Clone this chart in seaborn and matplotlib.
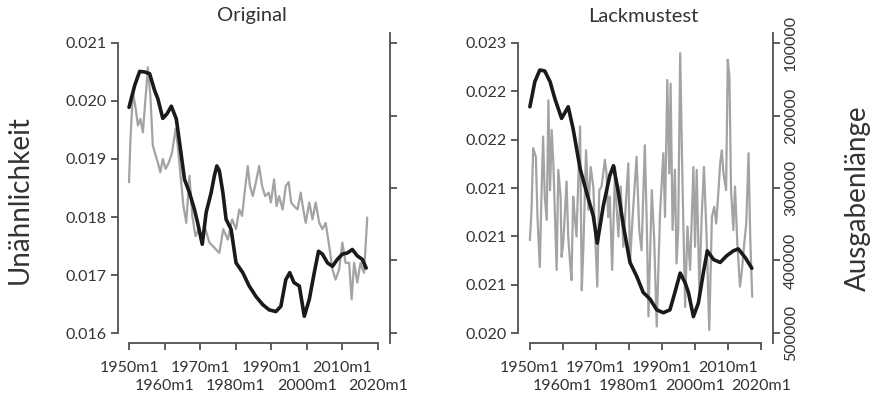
import matplotlib
matplotlib.use("Agg")
import matplotlib.pyplot as plt
import seaborn as sns
import pandas as pd

# ---------------- data ----------------
orig_black_year = [1950.0, 1951.6, 1953.0, 1954.4, 1955.8, 1957.2, 1958.1, 1959.5, 1960.7, 1961.9,
                   1963.3, 1964.2, 1965.6, 1967.0, 1968.4, 1969.3, 1970.6, 1971.7, 1973.1, 1974.0,
                   1974.7, 1975.4, 1976.4, 1977.3, 1978.7, 1980.1, 1982.0, 1983.8, 1985.7, 1987.6,
                   1989.4, 1991.3, 1992.7, 1994.1, 1995.2, 1996.4, 1997.9, 1999.3, 2000.7, 2002.1,
                   2003.3, 2004.4, 2005.8, 2007.2, 2008.6, 2010.0, 2011.4, 2012.8, 2014.2, 2015.6,
                   2016.7]
orig_black_val = [0.01989, 0.02027, 0.02051, 0.02050, 0.02047, 0.02018, 0.02004, 0.01970, 0.01978, 0.01991,
                  0.01969, 0.01929, 0.01865, 0.01842, 0.01813, 0.01790, 0.01753, 0.01808, 0.01842, 0.01871,
                  0.01888, 0.01880, 0.01842, 0.01796, 0.01779, 0.01721, 0.01704, 0.01681, 0.01663, 0.01649,
                  0.01640, 0.01637, 0.01646, 0.01692, 0.01704, 0.01687, 0.01681, 0.01629, 0.01658, 0.01704,
                  0.01741, 0.01736, 0.01721, 0.01715, 0.01727, 0.01736, 0.01738, 0.01744, 0.01733, 0.01727,
                  0.01712]

orig_gray_year = [1950.0, 1950.4, 1951.1, 1951.9, 1952.5, 1953.2, 1953.9, 1954.7, 1955.3, 1956.0,
                  1956.7, 1957.5, 1958.1, 1958.8, 1959.5, 1960.3, 1961.2, 1962.1, 1963.1, 1963.7,
                  1964.5, 1965.3, 1966.1, 1967.0, 1967.8, 1968.7, 1969.6, 1970.6, 1971.5, 1972.6,
                  1974.0, 1975.4, 1976.5, 1977.8, 1979.0, 1980.1, 1981.0, 1981.8, 1982.4, 1983.4,
                  1984.0, 1984.8, 1985.7, 1986.6, 1987.4, 1988.3, 1989.3, 1989.9, 1990.8, 1991.5,
                  1992.2, 1993.2, 1994.1, 1994.9, 1995.6, 1996.4, 1997.4, 1998.3, 1999.0, 1999.7,
                  2000.7, 2001.6, 2002.5, 2003.5, 2004.4, 2005.3, 2006.3, 2007.2, 2008.1, 2009.1,
                  2010.0, 2010.9, 2011.9, 2012.6, 2013.3, 2014.2, 2015.1, 2016.1, 2017.0]
orig_gray_val = [0.01860, 0.01934, 0.02015, 0.01986, 0.01958, 0.01969, 0.01946, 0.02009, 0.02058, 0.02009,
                 0.01923, 0.01906, 0.01894, 0.01877, 0.01900, 0.01883, 0.01894, 0.01911, 0.01952, 0.01923,
                 0.01871, 0.01819, 0.01790, 0.01871, 0.01802, 0.01767, 0.01779, 0.01767, 0.01779, 0.01756,
                 0.01747, 0.01738, 0.01779, 0.01761, 0.01796, 0.01779, 0.01813, 0.01802, 0.01836, 0.01888,
                 0.01854, 0.01836, 0.01860, 0.01888, 0.01854, 0.01836, 0.01842, 0.01825, 0.01865, 0.01819,
                 0.01836, 0.01813, 0.01854, 0.01860, 0.01825, 0.01819, 0.01813, 0.01842, 0.01813, 0.01790,
                 0.01825, 0.01796, 0.01825, 0.01790, 0.01779, 0.01790, 0.01750, 0.01710, 0.01692, 0.01710,
                 0.01756, 0.01721, 0.01721, 0.01658, 0.01721, 0.01687, 0.01721, 0.01704, 0.01799]

test_black_year = [1950.0, 1951.5, 1953.0, 1954.5, 1956.1, 1957.6, 1959.6, 1961.6, 1963.1, 1965.2,
                   1967.2, 1969.2, 1970.4, 1972.2, 1974.2, 1975.3, 1976.8, 1978.3, 1980.3, 1982.3,
                   1984.3, 1986.4, 1988.4, 1990.4, 1992.4, 1993.9, 1995.5, 1997.0, 1998.0, 1999.5,
                   2001.0, 2002.5, 2003.7, 2005.6, 2007.6, 2009.6, 2011.6, 2013.1, 2015.2, 2017.2]
test_black_val = [0.02234, 0.02260, 0.02272, 0.02271, 0.02260, 0.02242, 0.02222, 0.02234, 0.02211, 0.02170,
                  0.02145, 0.02121, 0.02093, 0.02131, 0.02163, 0.02173, 0.02145, 0.02111, 0.02073, 0.02059,
                  0.02042, 0.02035, 0.02024, 0.02021, 0.02024, 0.02042, 0.02062, 0.02052, 0.02042, 0.02017,
                  0.02031, 0.02062, 0.02085, 0.02076, 0.02073, 0.02080, 0.02085, 0.02087, 0.02078, 0.02067]

test_gray_year = [1950.0, 1950.5, 1951.0, 1951.8, 1952.3, 1953.0, 1953.5, 1954.0, 1954.5, 1955.1,
                  1955.6, 1956.1, 1956.6, 1957.1, 1957.6, 1958.1, 1958.6, 1959.3, 1959.6, 1960.1,
                  1961.1, 1961.6, 1962.1, 1962.6, 1963.1, 1963.6, 1964.1, 1965.2, 1965.7, 1966.2,
                  1967.0, 1967.7, 1968.4, 1969.2, 1969.7, 1970.4, 1971.0, 1971.7, 1972.7, 1973.2,
                  1973.7, 1974.2, 1974.9, 1975.8, 1976.3, 1976.8, 1977.5, 1978.3, 1979.1, 1979.8,
                  1980.3, 1981.1, 1982.3, 1983.1, 1983.8, 1984.8, 1985.4, 1985.9, 1986.9, 1987.6,
                  1988.4, 1989.4, 1990.4, 1990.9, 1991.6, 1992.2, 1992.6, 1993.2, 1993.9, 1994.4,
                  1994.9, 1995.5, 1996.2, 1997.0, 1997.7, 1998.5, 1999.5, 2000.0, 2000.5, 2001.3,
                  2002.0, 2002.7, 2003.5, 2004.3, 2005.1, 2005.8, 2006.4, 2007.1, 2007.6, 2008.1,
                  2008.6, 2009.4, 2009.9, 2010.4, 2010.9, 2011.6, 2012.1, 2012.8, 2013.6, 2014.1,
                  2014.8, 2015.5, 2016.2, 2016.7, 2017.3]
test_gray_val = [372000, 330000, 245000, 257000, 340000, 409000, 312000, 229000, 312000, 344000,
                 179000, 303000, 220000, 266000, 340000, 413000, 275000, 312000, 395000, 376000,
                 291000, 367000, 399000, 427000, 312000, 340000, 367000, 215000, 441000, 381000,
                 248000, 330000, 271000, 298000, 358000, 436000, 303000, 298000, 261000, 280000,
                 340000, 312000, 413000, 271000, 330000, 367000, 298000, 381000, 317000, 266000,
                 404000, 340000, 257000, 358000, 386000, 241000, 353000, 477000, 303000, 367000,
                 491000, 335000, 252000, 340000, 151000, 280000, 156000, 358000, 275000, 404000,
                 358000, 114000, 294000, 464000, 353000, 413000, 271000, 381000, 275000, 441000,
                 340000, 271000, 367000, 496000, 340000, 326000, 349000, 303000, 266000, 248000,
                 280000, 303000, 123000, 146000, 303000, 358000, 298000, 376000, 436000, 418000,
                 381000, 349000, 252000, 367000, 450000]

# x tick labels are staggered on two rows (R style)
x_ticks_row1 = [1950, 1970, 1990, 2010]
x_labels_row1 = ["1950m1", "1970m1", "1990m1", "2010m1"]
x_ticks_row2 = [1960, 1980, 2000, 2020]
x_labels_row2 = ["1960m1", "1980m1", "2000m1", "2020m1"]
orig_y_ticks = [0.016, 0.017, 0.018, 0.019, 0.020, 0.021]
orig_y_labels = ["0.016", "0.017", "0.018", "0.019", "0.020", "0.021"]
test_y_ticks = [0.0200, 0.0205, 0.0210, 0.0215, 0.0220, 0.0225, 0.0230]
test_y_labels = ["0.020", "0.021", "0.021", "0.021", "0.022", "0.022", "0.023"]
len_ticks = [100000, 200000, 300000, 400000, 500000]
len_labels = ["100000", "200000", "300000", "400000", "500000"]

titles = ["Original", "Lackmustest"]
ylabel_left = "Unähnlichkeit"
ylabel_right = "Ausgabenlänge"

# ---------------- style ----------------
sns.set_style("ticks")
plt.rcParams["font.family"] = ["Lato", "DejaVu Sans"]
AX_COL = "#505050"
TXT_COL = "#333333"
BLACK = "#1a1a1a"
GRAY = "#a3a3a3"
FS = 11.5

W, H = 876, 395
fig = plt.figure(figsize=(W / 100, H / 100), dpi=100)


def px_axes(x0, x1, y0, y1):
    return fig.add_axes([x0 / W, 1 - y1 / H, (x1 - x0) / W, (y1 - y0) / H])


def style_main(ax, yticks, ylabels, xlim, ylim):
    ax.set_xlim(*xlim)
    ax.set_ylim(*ylim)
    for s in ["top", "right"]:
        ax.spines[s].set_visible(False)
    for s in ["left", "bottom"]:
        ax.spines[s].set_color(AX_COL)
        ax.spines[s].set_linewidth(1.3)
    ax.spines["left"].set_bounds(yticks[0], yticks[-1])
    ax.spines["bottom"].set_bounds(x_ticks_row1[0], x_ticks_row2[-1])
    ax.set_yticks(yticks)
    ax.set_yticklabels(ylabels)
    ax.set_xticks(x_ticks_row1)
    ax.set_xticklabels(x_labels_row1)
    ax.set_xticks(x_ticks_row2, minor=True)
    ax.set_xticklabels(x_labels_row2, minor=True)
    ax.tick_params(axis="both", which="both", direction="out", length=5, width=1.3, color=AX_COL,
                   labelsize=FS, labelcolor=TXT_COL)
    ax.tick_params(axis="y", pad=3)
    ax.tick_params(axis="x", which="major", pad=8)
    ax.tick_params(axis="x", which="minor", pad=21)
    ax.set_xlabel("")
    ax.set_ylabel("")
    ax.patch.set_alpha(0)


def style_twin(ax2, show_labels):
    ax2.set_ylim(513800, 86200)
    for s in ["top", "left", "bottom"]:
        ax2.spines[s].set_visible(False)
    ax2.spines["right"].set_color(AX_COL)
    ax2.spines["right"].set_linewidth(1.3)
    ax2.set_yticks(len_ticks)
    if show_labels:
        ax2.set_yticklabels(len_labels, rotation=90, va="center")
    else:
        ax2.set_yticklabels([])
    ax2.tick_params(axis="y", direction="out", length=5, width=1.3, color=AX_COL,
                    labelsize=FS, labelcolor=TXT_COL, pad=3)
    ax2.set_ylabel("")
    ax2.set_xlabel("")


# ---------------- left panel ----------------
axL = px_axes(118, 390, 33, 343)
axL2 = axL.twinx()
df_og = pd.DataFrame({"year": orig_gray_year, "val": orig_gray_val})
df_ob = pd.DataFrame({"year": orig_black_year, "val": orig_black_val})
sns.lineplot(data=df_og, x="year", y="val", ax=axL, color=GRAY, lw=1.6, zorder=2)
sns.lineplot(data=df_ob, x="year", y="val", ax=axL, color=BLACK, lw=2.6, zorder=3)
style_main(axL, orig_y_ticks, orig_y_labels, (1946.9, 2023.4), (0.015828, 0.021172))
style_twin(axL2, False)
axL.set_zorder(axL2.get_zorder() + 1)

# ---------------- right panel ----------------
axR = px_axes(518, 773, 33, 343)
axR2 = axR.twinx()
df_tg = pd.DataFrame({"year": test_gray_year, "val": test_gray_val})
df_tb = pd.DataFrame({"year": test_black_year, "val": test_black_val})
sns.lineplot(data=df_tg, x="year", y="val", ax=axR2, color=GRAY, lw=1.6)
sns.lineplot(data=df_tb, x="year", y="val", ax=axR, color=BLACK, lw=2.6)
style_main(axR, test_y_ticks, test_y_labels, (1946.4, 2023.6), (0.019897, 0.023103))
style_twin(axR2, True)
axR2.set_xlim(1946.4, 2023.6)
axR.set_zorder(axR2.get_zorder() + 1)

# ---------------- texts ----------------
fig.text(252 / W, 1 - 16 / H, titles[0], ha="center", va="center", fontsize=14.5, color=TXT_COL)
fig.text(643 / W, 1 - 16 / H, titles[1], ha="center", va="center", fontsize=14.5, color=TXT_COL)
fig.text(20 / W, 1 - 200 / H, ylabel_left, rotation=90, ha="center", va="center",
         fontsize=20, color=TXT_COL)
fig.text(858 / W, 1 - 198 / H, ylabel_right, rotation=90, ha="center", va="center",
         fontsize=20, color=TXT_COL)

fig.savefig("out.png", dpi=100)
